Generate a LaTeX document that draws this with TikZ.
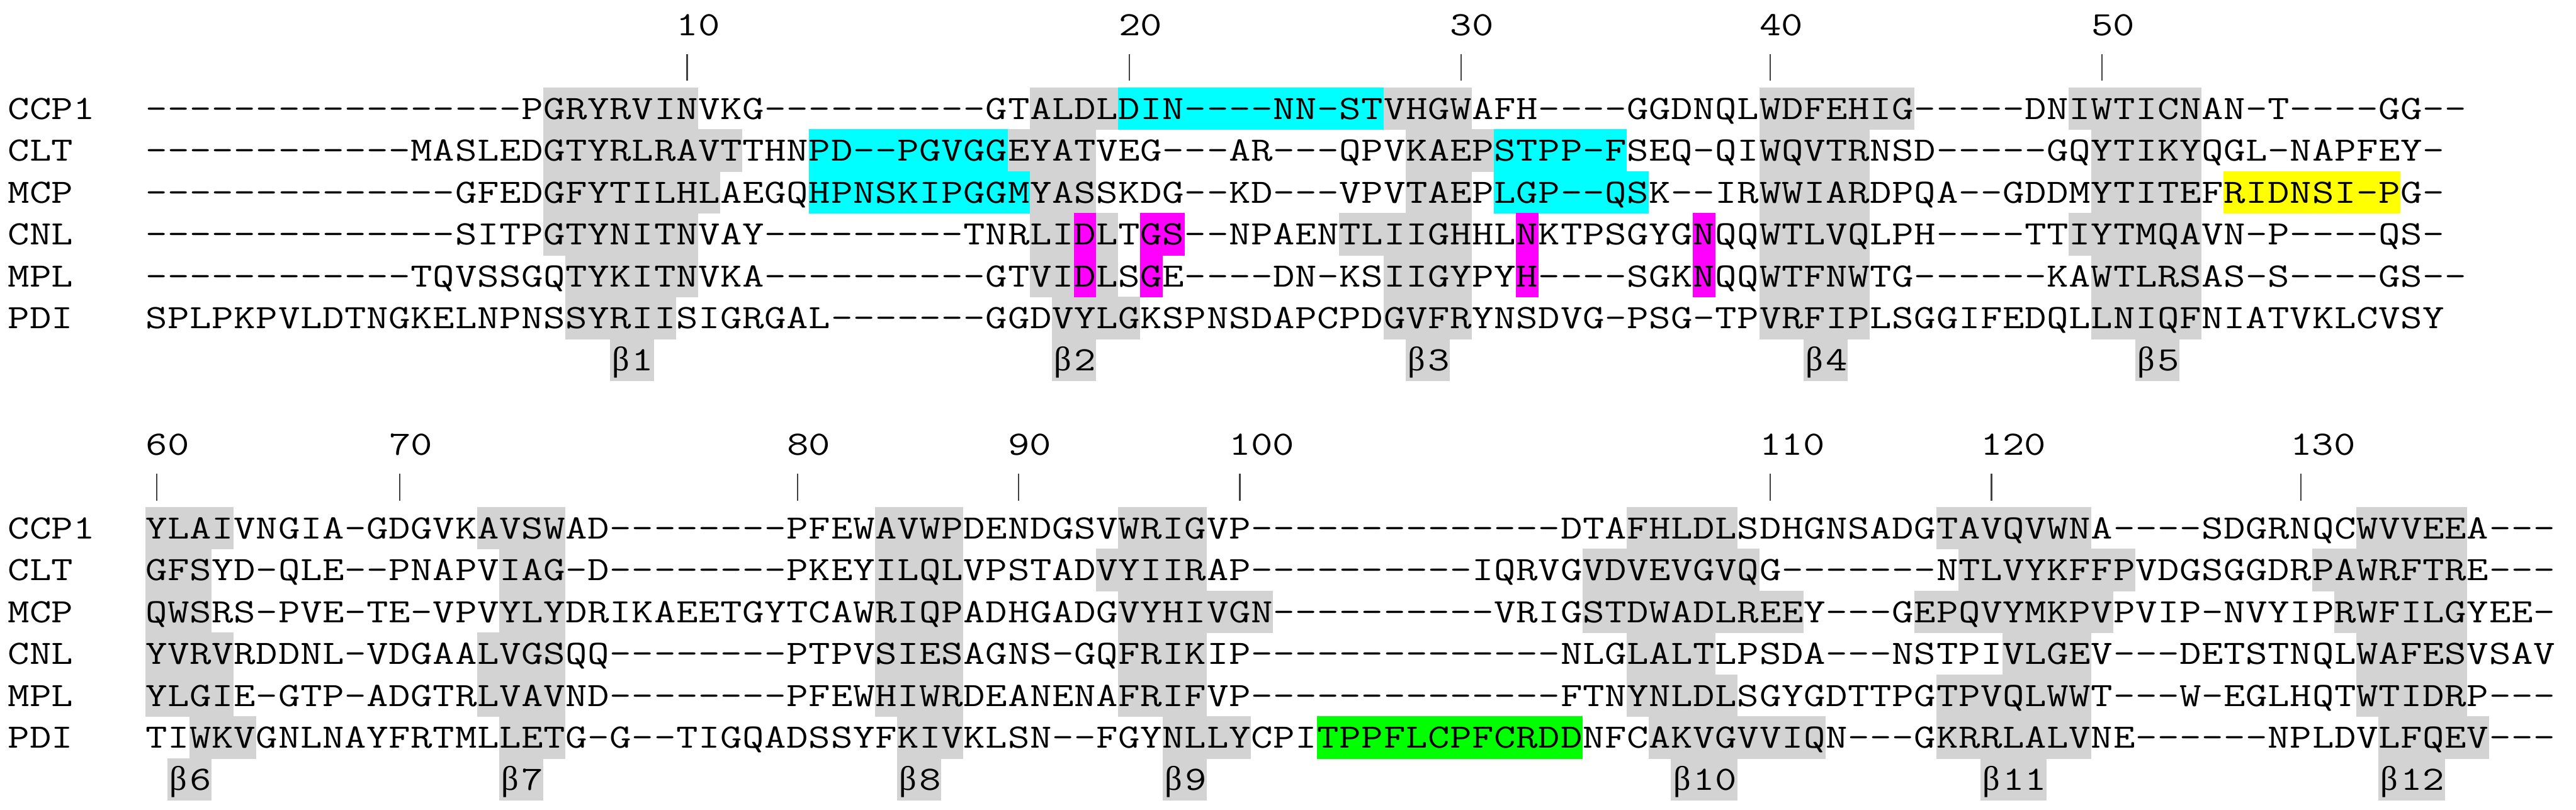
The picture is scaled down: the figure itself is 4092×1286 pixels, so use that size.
\documentclass[tikz,border=0pt]{standalone}
\usepackage{fontspec}
\newfontfamily\grk{Liberation Serif}
\definecolor{bgray}{RGB}{211,211,211}
\definecolor{hcyan}{RGB}{0,255,255}
\definecolor{hmag}{RGB}{255,0,255}
\definecolor{hyel}{RGB}{255,255,0}
\definecolor{hgrn}{RGB}{0,255,0}
\newcommand\ch[1]{\scalebox{1.236}[1]{#1}}
\makeatletter
\newcount\seq@i
\newcommand\seqrow[3]{\seq@i=#2\relax\def\seq@y{#1}\seq@go#3\@nil}
\def\seq@go#1{\ifx#1\@nil\else\node[res] at ({248.56+35.12*\the\seq@i},\seq@y) {\ch{#1}};\advance\seq@i by 1\relax\expandafter\seq@go\fi}
\makeatother
% highlight: colour, block top, row, first col, last col
\newcommand\hl[5]{\fill[#1] ({231+35.12*(#4)},{#2+66.5*(#3)}) rectangle ({231+35.12*(#5+1)},{#2+66.5*(#3+1)+0.6});}
\newcommand\gb[4]{\hl{bgray}{#1}{#2}{#3}{#4}}
\tikzset{
  res/.style={anchor=base, inner sep=0pt, font=\ttfamily\fontsize{15.4}{16}\selectfont},
  lab/.style={anchor=base west, inner sep=0pt, font=\ttfamily\fontsize{15.4}{16}\selectfont},
  num/.style={anchor=base west, inner sep=0pt, font=\ttfamily\fontsize{15.4}{16}\selectfont},
  bet/.style={anchor=base, inner sep=0pt, font=\grk\fontsize{15.4}{16}\selectfont},
  tickline/.style={line width=0.6pt, draw=black!75}
}
\begin{document}
\begin{tikzpicture}[x=0.01cm,y=-0.01cm]
\fill[white] (0,0) rectangle (4092,1286);
\useasboundingbox (0,0) rectangle (4092,1286);
% ---------------- top block: gray strands ----------------
% beta1
\gb{139}{0}{18}{24}\gb{139}{1}{18}{26}\gb{139}{2}{18}{25}\gb{139}{3}{18}{24}\gb{139}{4}{19}{24}\gb{139}{5}{19}{23}\gb{139}{6}{21}{22}
% beta2
\gb{139}{0}{40}{43}\gb{139}{1}{39}{42}\gb{139}{2}{40}{42}\gb{139}{3}{40}{43}\gb{139}{4}{40}{43}\gb{139}{5}{41}{44}\gb{139}{6}{41}{42}
% beta3
\gb{139}{0}{56}{59}\gb{139}{1}{57}{60}\gb{139}{2}{57}{59}\gb{139}{3}{54}{59}\gb{139}{4}{56}{59}\gb{139}{5}{56}{59}\gb{139}{6}{57}{58}
% beta4
\gb{139}{0}{73}{79}\gb{139}{1}{73}{77}\gb{139}{2}{73}{77}\gb{139}{3}{73}{77}\gb{139}{4}{73}{77}\gb{139}{5}{73}{77}\gb{139}{6}{75}{76}
% beta5
\gb{139}{0}{87}{92}\gb{139}{1}{88}{92}\gb{139}{2}{88}{92}\gb{139}{3}{87}{92}\gb{139}{4}{88}{92}\gb{139}{5}{88}{92}\gb{139}{6}{90}{91}
% coloured boxes
\hl{hcyan}{139}{0}{44}{55}
\hl{hcyan}{139}{1}{30}{38}\hl{hcyan}{139}{1}{61}{66}
\hl{hcyan}{139}{2}{30}{39}\hl{hcyan}{139}{2}{61}{67}
\hl{hyel}{139}{2}{94}{101}
\hl{hmag}{139}{3}{42}{42}\hl{hmag}{139}{3}{45}{46}\hl{hmag}{139}{3}{62}{62}\hl{hmag}{139}{3}{70}{70}
\hl{hmag}{139}{4}{42}{42}\hl{hmag}{139}{4}{45}{45}\hl{hmag}{139}{4}{62}{62}\hl{hmag}{139}{4}{70}{70}
% ---------------- bottom block: gray strands ----------------
% beta6
\gb{805}{0}{0}{3}\gb{805}{1}{0}{2}\gb{805}{2}{0}{2}\gb{805}{3}{0}{3}\gb{805}{4}{0}{3}\gb{805}{5}{2}{4}\gb{805}{6}{1}{2}
% beta7
\gb{805}{0}{15}{18}\gb{805}{1}{16}{18}\gb{805}{2}{16}{18}\gb{805}{3}{15}{18}\gb{805}{4}{15}{18}\gb{805}{5}{16}{18}\gb{805}{6}{16}{17}
% beta8
\gb{805}{0}{33}{36}\gb{805}{1}{33}{36}\gb{805}{2}{33}{36}\gb{805}{3}{33}{36}\gb{805}{4}{33}{36}\gb{805}{5}{34}{36}\gb{805}{6}{34}{35}
% beta9
\gb{805}{0}{44}{47}\gb{805}{1}{43}{47}\gb{805}{2}{44}{50}\gb{805}{3}{44}{47}\gb{805}{4}{44}{47}\gb{805}{5}{46}{49}\gb{805}{6}{46}{47}
% beta10
\gb{805}{0}{67}{71}\gb{805}{1}{65}{72}\gb{805}{2}{65}{74}\gb{805}{3}{67}{70}\gb{805}{4}{67}{71}\gb{805}{5}{68}{75}\gb{805}{6}{69}{71}
% beta11
\gb{805}{0}{81}{87}\gb{805}{1}{82}{89}\gb{805}{2}{80}{88}\gb{805}{3}{84}{87}\gb{805}{4}{81}{87}\gb{805}{5}{81}{87}\gb{805}{6}{83}{85}
% beta12
\gb{805}{0}{100}{104}\gb{805}{1}{98}{104}\gb{805}{2}{99}{104}\gb{805}{3}{100}{104}\gb{805}{4}{100}{104}\gb{805}{5}{101}{105}\gb{805}{6}{101}{103}
\hl{hgrn}{805}{5}{53}{64}
% ---------------- rulers ----------------
\foreach \c/\n in {24/10,44/20,59/30,73/40,88/50}{
  \draw[tickline] ({248.56+35.12*\c},86) -- ({248.56+35.12*\c},128);
  \node[num] (top\n) at ({231+35.12*\c},57) {\ch{\n}};
}
\foreach \c/\n in {0/60,11/70,29/80,39/90,49/100,73/110,83/120,97/130}{
  \draw[tickline] ({248.56+35.12*\c},752) -- ({248.56+35.12*\c},795);
  \node[num] (bot\n) at ({231+35.12*\c},723) {\ch{\n}};
}
% ---------------- names ----------------
\foreach \nm [count=\r from 0] in {CCP1,CLT,MCP,CNL,MPL,PDI}{
  \node[lab] (t\nm) at (12,{189.5+66.5*\r}) {\ch{\nm}};
  \node[lab] (b\nm) at (12,{855.5+66.5*\r}) {\ch{\nm}};
}
% ---------------- top sequences ----------------
\seqrow{189.5}{0}{-----------------PGRYRVINVKG----------GTALDLDIN----NN-STVHGWAFH----GGDNQLWDFEHIG-----DNIWTICNAN-T----GG--}
\seqrow{256}{0}{------------MASLEDGTYRLRAVTTHNPD--PGVGGEYATVEG---AR---QPVKAEPSTPP-FSEQ-QIWQVTRNSD-----GQYTIKYQGL-NAPFEY-}
\seqrow{322.5}{0}{--------------GFEDGFYTILHLAEGQHPNSKIPGGMYASSKDG--KD---VPVTAEPLGP--QSK--IRWWIARDPQA--GDDMYTITEFRIDNSI-PG-}
\seqrow{389}{0}{--------------SITPGTYNITNVAY---------TNRLIDLTGS--NPAENTLIIGHHLNKTPSGYGNQQWTLVQLPH----TTIYTMQAVN-P----QS-}
\seqrow{455.5}{0}{------------TQVSSGQTYKITNVKA----------GTVIDLSGE----DN-KSIIGYPYH----SGKNQQWTFNWTG------KAWTLRSAS-S----GS--}
\seqrow{522}{0}{SPLPKPVLDTNGKELNPNSSYRIISIGRGAL-------GGDVYLGKSPNSDAPCPDGVFRYNSDVG-PSG-TPVRFIPLSGGIFEDQLLNIQFNIATVKLCVSY}
% ---------------- bottom sequences ----------------
\seqrow{855.5}{0}{YLAIVNGIA-GDGVKAVSWAD--------PFEWAVWPDENDGSVWRIGVP--------------DTAFHLDLSDHGNSADGTAVQVWNA----SDGRNQCWVVEEA---}
\seqrow{922}{0}{GFSYD-QLE--PNAPVIAG-D--------PKEYILQLVPSTADVYIIRAP----------IQRVGVDVEVGVQG-------NTLVYKFFPVDGSGGDRPAWRFTRE---}
\seqrow{988.5}{0}{QWSRS-PVE-TE-VPVYLYDRIKAEETGYTCAWRIQPADHGADGVYHIVGN----------VRIGSTDWADLREEY---GEPQVYMKPVPVIP-NVYIPRWFILGYEE-}
\seqrow{1055}{0}{YVRVRDDNL-VDGAALVGSQQ--------PTPVSIESAGNS-GQFRIKIP--------------NLGLALTLPSDA---NSTPIVLGEV---DETSTNQLWAFESVSAV}
\seqrow{1121.5}{0}{YLGIE-GTP-ADGTRLVAVND--------PFEWHIWRDEANENAFRIFVP--------------FTNYNLDLSGYGDTTPGTPVQLWWT---W-EGLHQTWTIDRP---}
\seqrow{1188}{0}{TIWKVGNLNAYFRTMLLETG-G--TIGQADSSYFKIVKLSN--FGYNLLYCPITPPFLCPFCRDDNFCAKVGVVIQN---GKRRLALVNE------NPLDVLFQEV---}
% ---------------- beta labels ----------------
\foreach \c/\d/\k in {21/1/1,41/2/2,57/3/3,75/4/4,90/5/5}{
  \node[bet] (bt\k) at ({248.56+35.12*\c},588.5) {β};
  \node[res] (bn\k) at ({248.56+35.12*(\c+1)},588.5) {\ch{\d}};
}
\foreach \c/\d/\k in {1/6/6,16/7/7,34/8/8,46/9/9}{
  \node[bet] (bt\k) at ({248.56+35.12*\c},1254.5) {β};
  \node[res] (bn\k) at ({248.56+35.12*(\c+1)},1254.5) {\ch{\d}};
}
\foreach \c/\d/\e/\k in {69/1/0/10,83/1/1/11,101/1/2/12}{
  \node[bet] (bt\k) at ({248.56+35.12*\c},1254.5) {β};
  \node[res] (bn\k) at ({248.56+35.12*(\c+1)},1254.5) {\ch{\d}};
  \node[res] (bm\k) at ({248.56+35.12*(\c+2)},1254.5) {\ch{\e}};
}
\end{tikzpicture}
\end{document}
